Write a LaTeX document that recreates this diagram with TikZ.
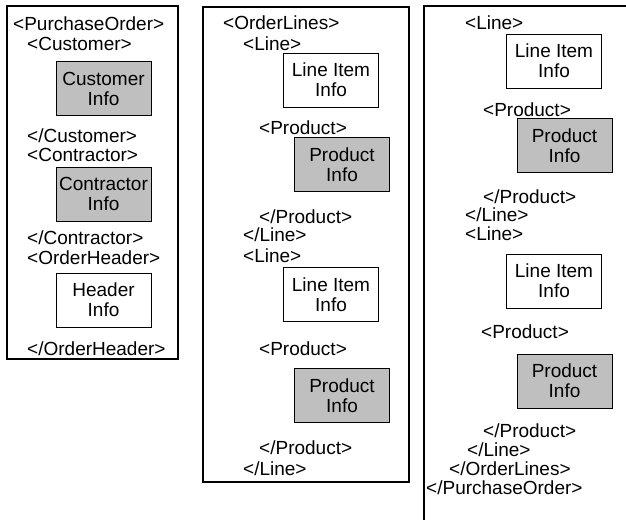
\documentclass[tikz,border=0pt]{standalone}
\usepackage{fontspec}
\setmainfont{Liberation Sans}
\begin{document}
\begin{tikzpicture}[x=1pt,y=-1pt,
  tag/.style={anchor=base west,inner sep=0pt,font=\fontsize{19}{20}\selectfont},
  infobox/.style={draw,line width=1pt,minimum width=95pt,minimum height=54pt,
    inner sep=0pt,align=center,font=\fontsize{19}{20}\selectfont},
  shaded/.style={infobox,fill=black!25},
  plain/.style={infobox,fill=white},
  panel/.style={draw,line width=1.3pt}]
\useasboundingbox (0,0) rectangle (626,520);

% panel 1: customer, contractor, header
\draw[panel] (7,6) rectangle (178,359);
\node[tag] (po) at (13,30) {<PurchaseOrder>};
\node[tag] (cu) at (27,50) {<Customer>};
\node[shaded] (cuinfo) at (103.5,88.5) {Customer\\Info};
\node[tag] (cue) at (27,142) {</Customer>};
\node[tag] (co) at (27,161) {<Contractor>};
\node[shaded] (coinfo) at (103.5,194) {Contractor\\Info};
\node[tag] (coe) at (27,244) {</Contractor>};
\node[tag] (oh) at (27,264) {<OrderHeader>};
\node[plain] (ohinfo) at (103.5,300) {Header\\Info};
\node[tag] (ohe) at (27,355) {</OrderHeader>};

% panel 2: first two lines
\draw[panel] (203,7) rectangle (409,482);
\node[tag] (ol) at (223,29) {<OrderLines>};
\node[tag] (l1) at (243,50) {<Line>};
\node[plain] (li1) at (331,80) {Line Item\\Info};
\node[tag] (p1) at (259,134) {<Product>};
\node[shaded] (pi1) at (342,164.5) {Product\\Info};
\node[tag] (p1e) at (259,223) {</Product>};
\node[tag] (l1e) at (243,241) {</Line>};
\node[tag] (l2) at (243,262) {<Line>};
\node[plain] (li2) at (331,294.5) {Line Item\\Info};
\node[tag] (p2) at (259,355) {<Product>};
\node[shaded] (pi2) at (342,395.5) {Product\\Info};
\node[tag] (p2e) at (259,454) {</Product>};
\node[tag] (l2e) at (243,475) {</Line>};

% panel 3: remaining lines and closing tags
\draw[panel] (626,6) -- (424,6) -- (424,520);
\node[tag] (l3) at (465,29) {<Line>};
\node[plain] (li3) at (554,61) {Line Item\\Info};
\node[tag] (p3) at (483,116) {<Product>};
\node[shaded] (pi3) at (564.5,145.5) {Product\\Info};
\node[tag] (p3e) at (483,203) {</Product>};
\node[tag] (l3e) at (465,221) {</Line>};
\node[tag] (l4) at (465,240) {<Line>};
\node[plain] (li4) at (554,281) {Line Item\\Info};
\node[tag] (p4) at (481,338) {<Product>};
\node[shaded] (pi4) at (564.5,381) {Product\\Info};
\node[tag] (p4e) at (483,437) {</Product>};
\node[tag] (l4e) at (467,456) {</Line>};
\node[tag] (ole) at (449,475) {</OrderLines>};
\node[tag] (poe) at (426,494) {</PurchaseOrder>};
\end{tikzpicture}
\end{document}
